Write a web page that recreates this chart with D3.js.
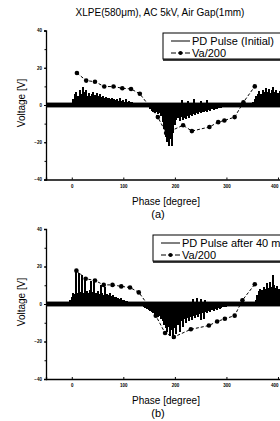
<!DOCTYPE html>
<html lang="en">
<head>
<meta charset="utf-8">
<title>PD pulse vs phase</title>
<script src="https://cdnjs.cloudflare.com/ajax/libs/d3/7.8.5/d3.min.js"></script>
<style>
  body { margin: 0; background: #fff; }
  svg { display: block; font-family: "Liberation Sans", Arial, sans-serif; }
</style>
</head>
<body>
<script>
// ---- data ----
var title = "XLPE(580\u03bcm), AC 5kV, Air Gap(1mm)";
var phaseTicks = [0, 100, 200, 300, 400];
var voltTicks = [-40, -20, 0, 20, 40];
var noiseBand = 1.3; // baseline noise of the PD trace, +/- V

// (a) initial
var pdPulseA = [
  [3,3],[6,6],[9,7],[12,5],[15,8],[18,6],[21,9.5],[24,7],[27,8],[30,5],[33,6.5],[36,5],[39,6],[42,7],
  [45,5.5],[48,6.5],[51,5],[54,6],[57,4.5],[60,5],[63,4],[66,4.5],[69,3.5],[72,4],[75,3],[78,3.5],
  [81,3],[84,2.5],[87,3],[90,2],[93,3.5],[96,2],[99,2.5],[102,1.5],[105,3],[108,1.5],[111,2],[114,1.5],[117,1.5],
  [152,-2],[155,-3],[158,-4],[161,-4.5],[164,-4],[167,-5],[170,-4.5],[173,-6],[176,-9],[179,-13],[182,-17],
  [185,-20],[188,-22],[191,-18],[194,-22],[197,-15],[200,-11],[203,-8],[206,-7],[209,-8.5],[212,-6.5],
  [215,-8],[218,-7],[221,-7.5],[224,-6],[227,-7],[230,-5.5],[233,-6],[236,-5],[239,-5.5],[242,-4.5],
  [245,-5],[248,-4],[251,-4.5],[254,-3.5],[257,-4],[260,-3],[263,-3.5],[266,-2.5],[269,-3],[272,-2],
  [275,-2.5],[278,-2],[281,-2],[284,-1.5],[287,-1.5],[290,-1.5],
  [214,2.5],[226,2],[238,3],[250,2],[262,2.5],
  [352,1.5],[355,3],[358,5],[361,6],[364,7.5],[367,6],[370,8],[373,7],[376,9],[379,7],[382,8.5],
  [385,6.5],[388,8],[391,9.5],[394,7],[397,8],[400,6.5],[403,7.5],[406,6],[409,7]
];
var vaA = [
  [10,17.2],[28,13.1],[45,12.5],[63,9.9],[81,9.9],[98,9.0],[115,8.6],[132,6.0],[167,-6.5],[183,-15],
  [216,-10.9],[233,-14],[267,-11.8],[284,-9.2],[296,-8.3],[316,-6.5],[333,1.5],[355,10]
];

// (b) after 40 min
var pdPulseB = [
  [-3,2],[0,4],[3,6],[6,5.5],[9,17.5],[11,6],[14,16.5],[17,6.5],[20,15.5],[23,6],[26,14.5],[29,7],
  [32,6],[35,7.5],[38,12.5],[41,6.5],[44,13.5],[47,6],[50,7],[53,5.5],[56,10],[59,6],[62,5],[65,9],
  [68,5.5],[71,5],[74,6],[77,4.5],[80,5],[83,3.5],[86,4],[89,3],[92,2.5],[95,3],[98,2],[101,2],[104,1.5],[107,1.5],
  [140,-1.5],[143,-2],[146,-2.5],[149,-3],[152,-3.5],[155,-4.5],[158,-5],[161,-6],[164,-5.5],[167,-7],
  [170,-6.5],[173,-8],[176,-9],[179,-11],[182,-13],[185,-15],[188,-12],[191,-17],[194,-14],[197,-18.5],
  [200,-13],[203,-16],[206,-11],[209,-15],[212,-9],[215,-12],[218,-8],[221,-10],[224,-7.5],[227,-9],
  [230,-7],[233,-8.5],[236,-6.5],[239,-7.5],[242,-6],[245,-7],[248,-5.5],[251,-8.5],[254,-5],[257,-8],
  [260,-4.5],[263,-5],[266,-3.5],[269,-4],[272,-3],[275,-3.5],[278,-2.5],[281,-3],[284,-2],[287,-2.5],
  [290,-2],[293,-1.5],[296,-1.5],[299,-1.5],
  [236,2.5],[242,3],[250,2.5],[258,2],
  [357,2],[360,5],[363,7],[366,8],[369,7.5],[372,9],[375,8],[378,11],[381,8.5],[384,12],[387,9],
  [390,15.5],[393,10],[396,8.5],[399,9.5],[402,8],[405,9],[408,7.5]
];
var vaB = [
  [9,17.8],[27,13.5],[45,12.5],[62,10.2],[79,10.2],[96,9.4],[113,8.8],[130,6.2],[163,-6.2],[181,-15.5],
  [198,-17.6],[231,-13.5],[266,-11.5],[282,-9.3],[297,-7.9],[316,-6.2],[331,2],[355,10.5]
];

var W = 280, H = 421;
var svg = d3.select("body").append("svg").attr("width", W).attr("height", H);

svg.append("text")
  .attr("x", 160).attr("y", 16)
  .attr("text-anchor", "middle")
  .attr("font-size", 10)
  .text(title);

// same phase scale for both panels
var x = d3.scaleLinear().domain([-50, 420]).range([46, 46 + 470 * 0.5155]);

function drawPanel(yTop, yBot, pd, va, legend, letter) {
  var y = d3.scaleLinear().domain([-40, 40]).range([yBot, yTop]);
  var g = svg.append("g");

  // baseline noise band of the PD trace
  g.append("rect")
    .attr("x", x(-50)).attr("width", W - x(-50))
    .attr("y", y(noiseBand)).attr("height", y(-noiseBand) - y(noiseBand))
    .attr("fill", "#000");

  // PD pulses
  g.selectAll("line.pd").data(pd).enter().append("line")
    .attr("class", "pd")
    .attr("x1", function(d) { return x(d[0]); })
    .attr("x2", function(d) { return x(d[0]); })
    .attr("y1", y(0))
    .attr("y2", function(d) { return y(d[1]); })
    .attr("stroke", "#000").attr("stroke-width", 2)
    .attr("shape-rendering", "crispEdges");

  // Va/200
  g.append("path").datum(va)
    .attr("d", d3.line().x(function(d) { return x(d[0]); }).y(function(d) { return y(d[1]); }))
    .attr("fill", "none").attr("stroke", "#000").attr("stroke-width", 1)
    .attr("stroke-dasharray", "3,2");
  g.selectAll("circle.va").data(va).enter().append("circle")
    .attr("class", "va")
    .attr("cx", function(d) { return x(d[0]); })
    .attr("cy", function(d) { return y(d[1]); })
    .attr("r", 2.3).attr("fill", "#000");

  // axes
  var yAxis = d3.axisLeft(y).tickValues(voltTicks).tickSize(2).tickPadding(2);
  var ga = g.append("g").attr("transform", "translate(" + x(-50) + ",0)").call(yAxis);
  g.append("g").attr("transform", "translate(" + x(-50) + ",0)")
    .call(d3.axisLeft(y).tickValues(d3.range(-40, 41, 10)).tickSize(1.5).tickFormat(""))
    .select(".domain").remove();
  var xAxis = d3.axisBottom(x).tickValues(phaseTicks).tickSize(-2).tickPadding(5);
  var gx = g.append("g").attr("transform", "translate(0," + yBot + ")").call(xAxis);
  [ga, gx].forEach(function(a) {
    a.selectAll("text").attr("font-size", 4.5).attr("font-weight", "bold").attr("font-family", "Liberation Sans, Arial");
    a.select(".domain").attr("stroke-width", 1.3);
  });
  // last phase label sits on the right edge, keep it inside
  gx.selectAll(".tick text").filter(function(d) { return d === 400; }).attr("text-anchor", "end");

  // axis titles
  g.append("text")
    .attr("transform", "translate(25," + ((yTop + yBot) / 2 - 2) + ") rotate(-90)")
    .attr("text-anchor", "middle").attr("font-size", 10)
    .text("Voltage [V]");
  g.append("text")
    .attr("x", 166).attr("y", yBot + 25)
    .attr("text-anchor", "middle").attr("font-size", 10)
    .text("Phase [degree]");
  g.append("text")
    .attr("x", 158).attr("y", yBot + 38)
    .attr("text-anchor", "middle").attr("font-size", 11)
    .text(letter);

  // legend
  var L = legend;
  g.append("rect")
    .attr("x", L.x).attr("y", L.y).attr("width", 200).attr("height", 26)
    .attr("fill", "#fff").attr("stroke", "#000").attr("stroke-width", 1);
  g.append("line")
    .attr("x1", L.x).attr("x2", W).attr("y1", L.y + 27).attr("y2", L.y + 27)
    .attr("stroke", "#000").attr("stroke-width", 1.5);
  g.append("line")
    .attr("x1", L.x + 8).attr("x2", L.x + 27).attr("y1", L.y + 8).attr("y2", L.y + 8)
    .attr("stroke", "#000").attr("stroke-width", 1);
  g.append("text").attr("x", L.x + 29).attr("y", L.y + 12)
    .attr("font-size", L.fs).text(L.pd);
  g.append("line")
    .attr("x1", L.x + 8).attr("x2", L.x + 27).attr("y1", L.y + 20).attr("y2", L.y + 20)
    .attr("stroke", "#000").attr("stroke-width", 1).attr("stroke-dasharray", "5,2");
  g.append("circle").attr("cx", L.x + 17.5).attr("cy", L.y + 20).attr("r", 2).attr("fill", "#000");
  g.append("text").attr("x", L.x + 29).attr("y", L.y + 24)
    .attr("font-size", L.fs).text("Va/200");
}

drawPanel(30.5, 179.5, pdPulseA, vaA,
  { x: 163, y: 33, pd: "PD Pulse (Initial)", fs: 11 }, "(a)");
drawPanel(229, 379, pdPulseB, vaB,
  { x: 153, y: 235, pd: "PD Pulse after 40 min", fs: 11 }, "(b)");
</script>
</body>
</html>
